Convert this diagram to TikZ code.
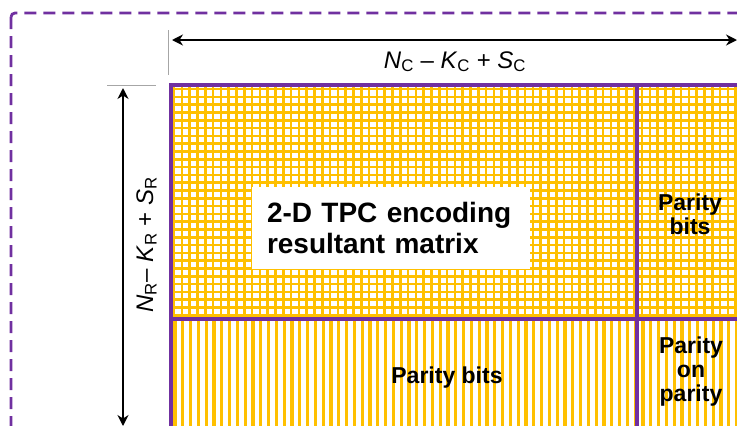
\documentclass[tikz,border=0pt]{standalone}
\usepackage{fontspec}
\setmainfont{Liberation Sans}
\usetikzlibrary{arrows.meta, positioning}
\definecolor{tpcpurple}{HTML}{7030A0}
\definecolor{tpcgold}{HTML}{FFC000}

\begin{document}
\begin{tikzpicture}[
    x=1pt, y=-1pt,
    >={Stealth[length=11pt, width=11pt]},
    frame/.style={draw=tpcpurple, line width=2.8pt, dash pattern=on 12pt off 7pt, rounded corners=4pt},
    border/.style={draw=tpcpurple, line width=3.4pt},
    gridline/.style={draw=tpcgold, line width=2.6pt},
    stripe/.style={draw=tpcgold, line width=3.2pt},
    tick/.style={draw=black!35, line width=1pt},
    dim/.style={<->, line width=2.4pt, black},
    dimlabel/.style={font=\fontsize{24}{28}\selectfont, inner sep=0pt},
    cell/.style={align=center, inner sep=0pt, font=\fontsize{23}{24}\selectfont\bfseries},
    titlebox/.style={fill=white, text width=248pt, inner xsep=15pt, minimum height=82pt, align=left, font=\fontsize{28}{31}\selectfont\bfseries}
  ]
    \clip (0,0) rectangle (737,426);
    \draw[frame] (11,13) rectangle (760,450);
    \begin{scope}
      \clip (171,85) rectangle (737,319);
      \foreach \i in {0,...,73} \draw[gridline] (174+\i*7.8,85) -- (174+\i*7.8,319);
      \foreach \j in {0,...,30} \draw[gridline] (171,89+\j*7.8) -- (737,89+\j*7.8);
    \end{scope}
    \begin{scope}
      \clip (171,319) rectangle (737,426);
      \foreach \i in {0,...,73} \draw[stripe] (175+\i*7.8,319) -- (175+\i*7.8,426);
    \end{scope}
    \draw[border] (737,85) -- (171,85) -- (171,426);
    \draw[border] (637,85) -- (637,426);
    \draw[border] (171,319) -- (737,319);
    \node[titlebox] (title) at (391,228) {2-D TPC encoding\\resultant matrix};
    \node[cell] (pbr) at (690,214) {Parity\\bits};
    \node[cell] (pop) at (691,372) {Parity\\on\\parity};
    \node[cell, anchor=base] (pbb) at (447,383) {Parity bits};
    \coordinate (cw) at (172,40);
    \coordinate (ce) at (737,40);
    \coordinate (rn) at (123,88);
    \coordinate (rs) at (123,426);
    \draw[tick] (168,30) -- (168,75);
    \draw[tick] (107,85) -- (156,85);
    \draw[dim] (cw) -- (ce);
    \draw[dim] (rn) -- (rs);
    \node[dimlabel, anchor=base] (lblc) at (455,68)
      {\textit{N}\textsubscript{C} -- \textit{K}\textsubscript{C} + \textit{S}\textsubscript{C}};
    \node[dimlabel, anchor=base, rotate=90] (lblr) at (153,245)
      {\textit{N}\textsubscript{R}-- \textit{K}\textsubscript{R} + \textit{S}\textsubscript{R}};
  \end{tikzpicture}
\end{document}
